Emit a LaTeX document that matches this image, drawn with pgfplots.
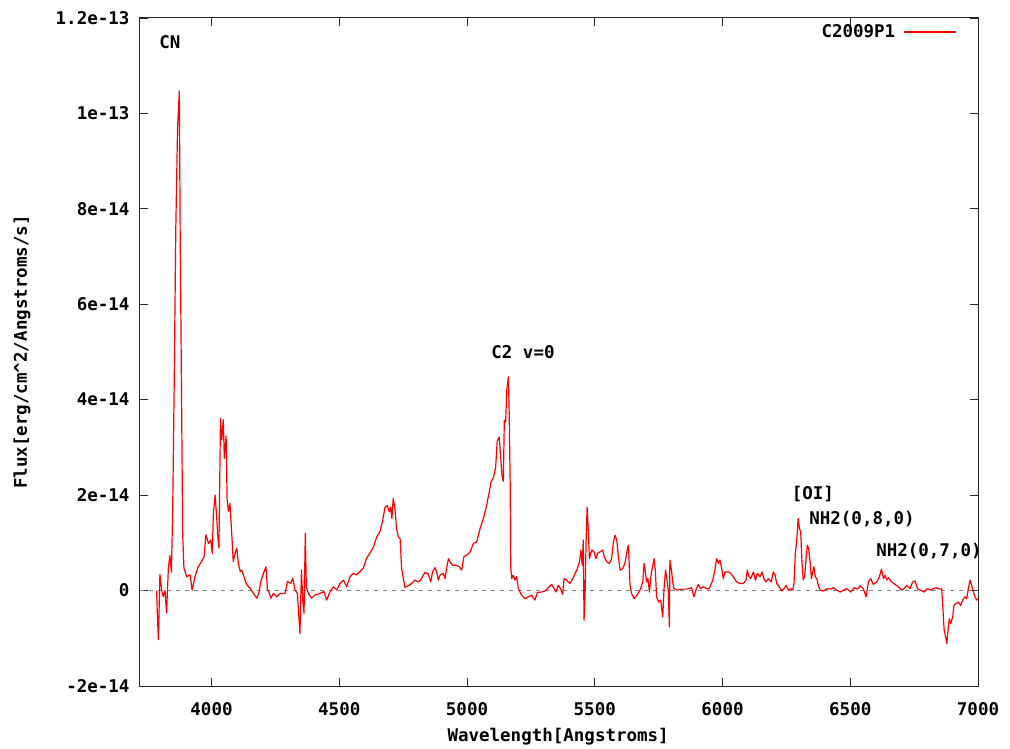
\documentclass[border=0pt]{standalone}
\usepackage{pgfplots}
\usepackage{pgfplotstable}
\pgfplotsset{compat=1.18}
\usepackage{fontspec}
\setmainfont{DejaVu Sans Mono}
\newcommand{\gfont}{\fontsize{17.5}{20}\selectfont\bfseries}
% flux in units of 1e-15 erg/cm^2/Angstrom/s
\pgfplotstableread{
x y
3785 0
3788 -5.1
3792 -10.3
3798 3.4
3805 0
3811 -1.3
3818 0
3824 -4.7
3831 4.7
3837 7.3
3843 3.9
3848 17.2
3854 43.8
3860 75.5
3867 97
3874 104.7
3877 76.4
3883 38.2
3887 12
3892 4.7
3903 2.9
3916 3.3
3924 0.1
3935 2.9
3948 5
3961 6.1
3971 7.1
3978 11.7
3988 9.9
3997 10.6
4003 7.8
4007 15.9
4014 20
4020 15.5
4024 11.7
4029 8.9
4035 36.1
4040 31.6
4046 35.8
4050 27.7
4057 32.4
4061 19
4066 16.6
4072 18.3
4079 12
4085 6.1
4092 7.8
4099 8.9
4105 5.7
4112 4
4118 4.3
4127 2.9
4138 1.2
4151 0.5
4164 -0.6
4177 -1.6
4185 -0.6
4193 1.9
4203 3.6
4213 5
4219 0.1
4224 -0.2
4232 -1.6
4242 -0.6
4255 -1.3
4268 -0.6
4288 -0.6
4297 1.9
4310 1.5
4318 2.6
4327 0.1
4336 -0.6
4341 -4.8
4346 -9
4352 4.3
4357 -2
4362 -4.8
4367 12
4371 0.8
4379 -0.6
4392 -1.6
4405 -0.9
4425 -0.6
4440 -0.2
4451 -2
4464 -0.2
4477 0.8
4490 0.1
4503 1.5
4516 2.2
4529 0.8
4542 2.9
4555 3.6
4568 3.3
4581 4
4594 4.7
4607 6.8
4620 7.8
4634 9.2
4647 11.3
4659 12.3
4670 14.7
4679 17.5
4688 17.8
4696 16.5
4701 17.5
4706 15.1
4711 19.3
4718 17.2
4724 13
4731 11.3
4738 10.9
4744 4.6
4751 2.5
4757 0.7
4770 1
4783 1.5
4796 2.2
4809 1.8
4822 2.5
4835 3.8
4848 3.5
4858 1.8
4865 3.9
4875 4.8
4881 3.9
4888 2.2
4894 3.2
4907 3.6
4914 2.5
4920 4.6
4927 6.7
4933 6
4944 5.3
4957 5.3
4970 5
4979 4.3
4988 7.1
4999 7.4
5012 8.1
5025 9.9
5038 10.2
5051 13
5064 15.1
5077 17.9
5087 20.7
5094 22.8
5103 23.6
5112 25.8
5118 31.3
5126 32.2
5131 28.4
5137 24
5142 22.9
5146 35.7
5151 35.3
5156 42.3
5162 44.8
5165 37.2
5169 22
5171 5
5175 2.5
5181 3.2
5188 2.2
5194 2.9
5201 0.4
5214 -1
5227 -1.7
5240 -1.3
5253 -1
5266 -2
5275 -0.4
5292 -0.3
5305 -0.1
5318 0.6
5331 1.3
5341 0.4
5348 -0.3
5357 1.1
5366 0.4
5374 -0.8
5380 2.5
5390 2.2
5403 1.5
5414 2.5
5423 3.6
5432 4.6
5440 6
5446 8.5
5451 5.3
5455 10.6
5458 -6.2
5462 -1
5466 10.2
5470 17.5
5475 12.3
5479 6.7
5484 7.8
5489 8.5
5497 8.1
5505 6.7
5511 7.8
5520 8.1
5531 8.5
5537 7.1
5547 6
5557 5.7
5566 6.7
5573 10.2
5579 11.6
5586 10.6
5592 7.4
5599 4.3
5609 4.6
5618 5.7
5628 8.8
5632 9.5
5638 1.1
5644 -0.6
5654 -1.7
5664 -1
5677 0.1
5688 1.8
5693 5.7
5698 3.9
5703 1.8
5708 2.5
5714 -0.3
5720 3.2
5727 5.3
5732 6.7
5737 4.3
5742 -1.3
5750 -2.4
5758 -2
5766 -5.5
5771 0.3
5777 4.3
5784 1.8
5788 -0.3
5792 -7.6
5794 6.4
5801 3.9
5805 1.8
5810 0.4
5823 0.1
5840 0.3
5860 0.3
5879 0.6
5888 -1.3
5896 0.1
5905 1.3
5914 0.4
5925 0.8
5938 0.4
5948 0.4
5962 2.2
5971 4.6
5977 6.7
5984 5.7
5990 6.4
5997 4.6
6003 2.5
6010 3.9
6023 3.9
6032 3.6
6042 2.9
6055 1.8
6069 1.5
6082 1.5
6092 2.2
6097 4.3
6102 3.2
6110 2.5
6121 3.9
6129 2.2
6136 3.6
6147 2.9
6155 3.9
6162 2.5
6170 1.8
6179 2.5
6190 1.8
6199 3.9
6206 3.2
6212 1.5
6222 0.8
6232 -0.1
6241 0.4
6249 1.1
6258 0.1
6267 0.4
6275 0.1
6280 1.5
6285 7.8
6290 10.2
6296 15.1
6301 13
6306 12.3
6311 6
6316 2.2
6322 3.2
6327 6.7
6332 9.5
6337 8.8
6343 6
6348 2.5
6353 3.9
6358 5
6363 2.9
6369 2.5
6375 1.1
6382 0.1
6395 -0.1
6408 0.4
6421 0.3
6434 0.6
6447 0.1
6460 -0.3
6486 0.4
6502 -0.3
6515 0.6
6528 0.3
6538 1
6551 0.4
6562 -1.3
6571 1.8
6580 2.5
6590 1.3
6603 1.8
6614 2.9
6622 4.5
6630 2.5
6636 3.2
6643 2.2
6649 2.7
6662 1.8
6675 1.3
6688 0.8
6701 0.1
6710 0.4
6721 1.1
6734 0.4
6744 1.8
6754 2
6763 0.4
6773 0.1
6789 -0.3
6802 0.4
6815 0.1
6825 0.4
6838 0.6
6849 0.3
6858 0.4
6862 -3.1
6867 -8
6872 -9.4
6878 -11.1
6883 -8
6888 -5.9
6893 -6.9
6901 -5.5
6906 -3.1
6914 -2.7
6923 -2.4
6932 -3.1
6940 -2
6949 -1.3
6956 -1.7
6962 0.4
6969 2.2
6975 1.1
6982 -0.3
6988 -1.3
6995 -2
7000 -1.7
}\spectrum
\begin{document}
\begin{tikzpicture}
\useasboundingbox (0,0) rectangle (1010pt,748pt);
\begin{axis}[
  at={(140pt,62pt)}, anchor=south west,
  scale only axis, width=838pt, height=668pt,
  xmin=3720, xmax=7000, ymin=-20, ymax=120,
  clip=false,
  axis line style={line width=1pt, black!85},
  major tick length=8pt,
  tick style={line width=0.9pt, black!85},
  xtick={4000,4500,5000,5500,6000,6500,7000},
  xticklabels={4000,4500,5000,5500,6000,6500,7000},
  ytick={-20,0,20,40,60,80,100,120},
  yticklabels={-2e-14,0,2e-14,4e-14,6e-14,8e-14,1e-13,1.2e-13},
  minor tick num=0,
  ticklabel style={font=\gfont},
  xticklabel style={yshift=-13pt},
  yticklabel style={xshift=-7pt},
  xlabel={Wavelength[Angstroms]},
  ylabel={Flux[erg/cm\textasciicircum 2/Angstroms/s]},
  label style={font=\gfont},
  xlabel style={at={(axis description cs:0.499,-0.0763)}, anchor=center},
  ylabel style={at={(axis description cs:-0.1408,0.5)}, anchor=center, rotate=0},
  legend plot pos=right,
  legend style={draw=none, fill=none, font=\gfont, at={(axis description cs:0.975,0.979)}, anchor=east, inner sep=0pt},
  legend image code/.code={\path[draw=none] (0pt,0pt) -- (1pt,0pt); \draw[#1] (7pt,0pt) -- (59pt,0pt);},
]
\addplot[gray, line width=0.8pt, dash pattern=on 4pt off 5pt, forget plot] coordinates {(3720,0) (7000,0)};
\addplot[red, line width=1.2pt, line join=round] table[x=x,y=y] {\spectrum};
\addlegendentry{C2009P1}
\node[font=\gfont] at (axis cs:3837,115) {CN};
\node[font=\gfont] at (axis cs:5219,50) {C2 v=0};
\node[font=\gfont] at (axis cs:6354,20.2) {[OI]};
\node[font=\gfont] at (axis cs:6546,15) {NH2(0,8,0)};
\node[font=\gfont] at (axis cs:6808,8.3) {NH2(0,7,0)};
\end{axis}
\end{tikzpicture}
\end{document}
